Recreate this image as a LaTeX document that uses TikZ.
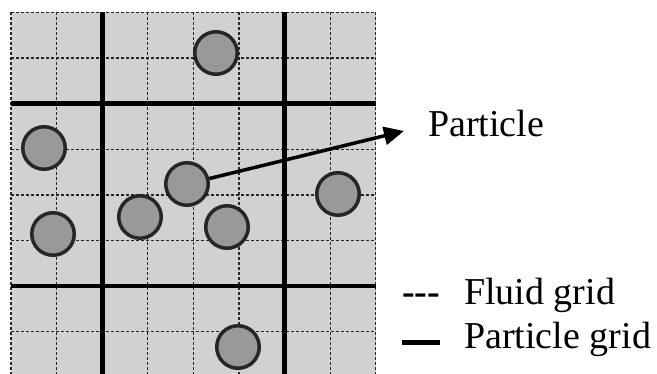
\documentclass[tikz,border=0pt]{standalone}
\usepackage{fontspec}
\setmainfont{Liberation Serif}
\usetikzlibrary{arrows.meta}
\tikzset{
	particlestyle/.style={circle,draw=black!85,line width=3.5pt,fill=white!60!black,minimum size=42.5pt,inner sep=0pt},
	fluidstyle/.style={draw=black!85,line width=1.3pt,dash pattern=on 3pt off 2pt},
	coarsestyle/.style={draw=black,line width=4.8pt},
	textstyle/.style={inner sep=0pt,anchor=base west,font=\fontsize{38}{40}\selectfont}
}
\begin{document}
\begin{tikzpicture}[x=1pt,y=-1pt]
	\useasboundingbox (0,0) rectangle (657,374);
	\clip (0,0) rectangle (657,374);
	\fill[white!82!black] (11,12.5) rectangle (375.8,377.3);
	\foreach \i in {0,...,8} {
		\draw[fluidstyle] ({11+45.6*\i},12.5) -- ({11+45.6*\i},377.3);
		\draw[fluidstyle] (11,{12.5+45.6*\i}) -- (375.8,{12.5+45.6*\i});
	}
	\foreach \i in {2,6} {
		\draw[coarsestyle] ({11+45.6*\i},12.5) -- ({11+45.6*\i},377.3);
		\draw[coarsestyle] (11,{12.5+45.6*\i}) -- (375.8,{12.5+45.6*\i});
	}
	\node[particlestyle] (p1) at (216,53) {};
	\node[particlestyle] (p2) at (44,148) {};
	\node[particlestyle] (p3) at (53,234) {};
	\node[particlestyle] (p4) at (140,217) {};
	\node[particlestyle] (p5) at (187,184) {};
	\node[particlestyle] (p6) at (227,227) {};
	\node[particlestyle] (p7) at (338,194) {};
	\node[particlestyle] (p8) at (238,347) {};
	\coordinate (tip) at (404,131);
	\draw[line width=3.5pt,-{Triangle[length=20pt,width=18pt]}] (p5) -- (tip);
	\node[textstyle] (plabel) at (428,137) {Particle};
	\node[textstyle] (fsym) at (402,305) {\textbf{-{}-{}-}};
	\node[textstyle] (flabel) at (464,305) {Fluid grid};
	\node[textstyle] (psym) at (402,349) {\rule[4pt]{38pt}{5pt}};
	\node[textstyle] (pglabel) at (464,349) {Particle grid};
\end{tikzpicture}
\end{document}
